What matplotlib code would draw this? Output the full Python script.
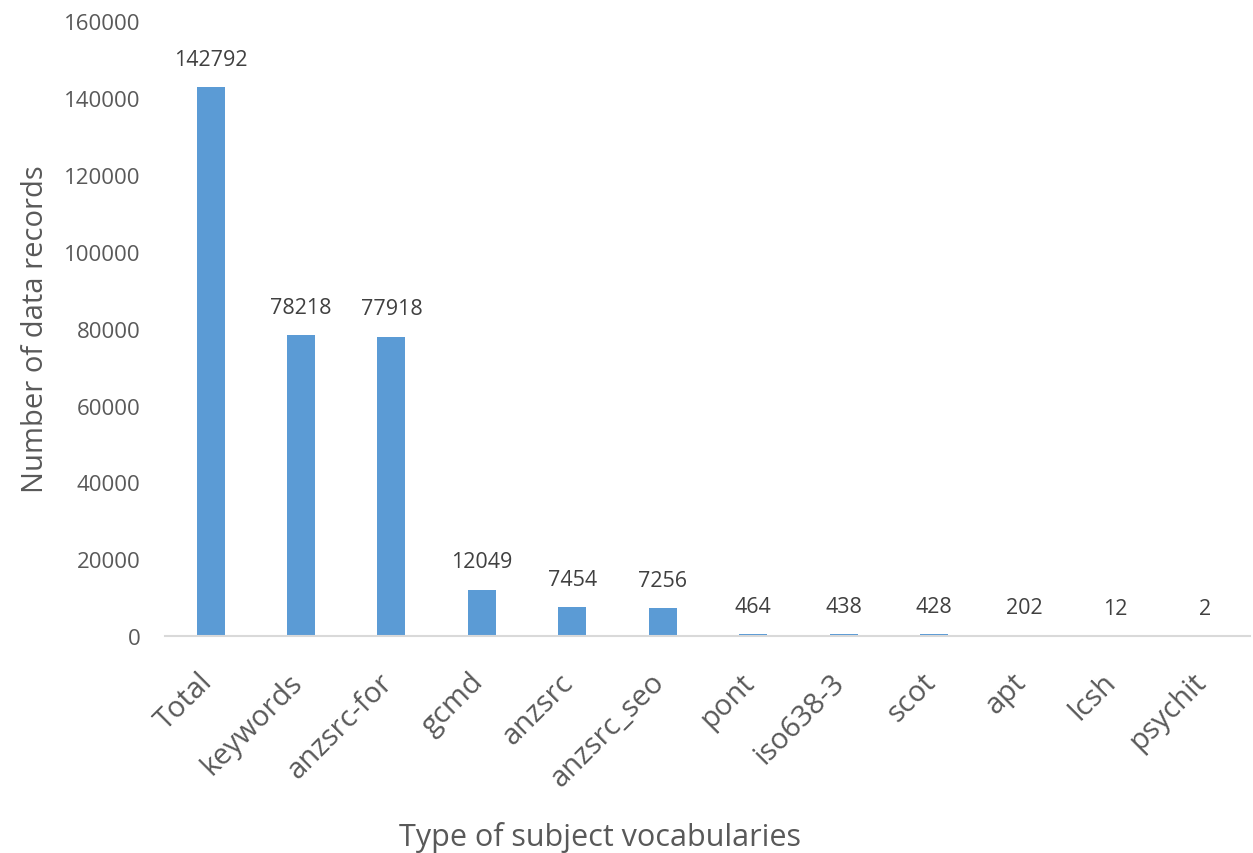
import matplotlib
matplotlib.use('Agg')
import matplotlib.pyplot as plt
import matplotlib.transforms as mtransforms
import numpy as np

plt.rcParams['font.family'] = ['Open Sans', 'DejaVu Sans']

categories = ['Total', 'keywords', 'anzsrc-for', 'gcmd', 'anzsrc', 'anzsrc_seo',
              'pont', 'iso638-3', 'scot', 'apt', 'lcsh', 'psychit']
records = [142792, 78218, 77918, 12049, 7454, 7256, 464, 438, 428, 202, 12, 2]
yticks = [0, 20000, 40000, 60000, 80000, 100000, 120000, 140000, 160000]

fig = plt.figure(figsize=(12.53, 8.54), dpi=100)
ax = fig.add_axes([0.132, 0.254, 0.866, 0.72])

x = np.arange(len(categories))
ax.bar(x, records, width=0.31, color='#5B9BD5')
for xi, v in zip(x, records):
    ax.text(xi, v + 4500, str(v), ha='center', va='bottom', fontsize=15.5, color='#404040')

ax.set_xlim(-0.5, len(categories) - 0.5)
ax.set_ylim(0, 160000)
ax.set_yticks(yticks)
ax.set_yticklabels([str(t) for t in yticks], fontsize=16, color='#595959')
ax.set_xticks(x)
ax.set_xticklabels([])
ax.tick_params(axis='both', length=0)
ax.tick_params(axis='y', pad=18)

# rotated category labels, placed by hand so they can be offset
lbl_trans = ax.get_xaxis_transform() + mtransforms.ScaledTranslation(-0.13, -0.31, fig.dpi_scale_trans)
for xi, name in zip(x, categories):
    ax.text(xi, 0, name, transform=lbl_trans, rotation=45, rotation_mode='anchor',
            ha='right', va='top', fontsize=21, color='#595959')

for s in ['top', 'right', 'left']:
    ax.spines[s].set_visible(False)
ax.spines['bottom'].set_color('#D9D9D9')
ax.spines['bottom'].set_linewidth(1.5)

ax.set_ylabel('Number of data records', fontsize=21, color='#595959', labelpad=10)
fig.text(0.479, 0.019, 'Type of subject vocabularies', fontsize=22, color='#595959',
         ha='center', va='center')

fig.savefig('out.png', dpi=100)
